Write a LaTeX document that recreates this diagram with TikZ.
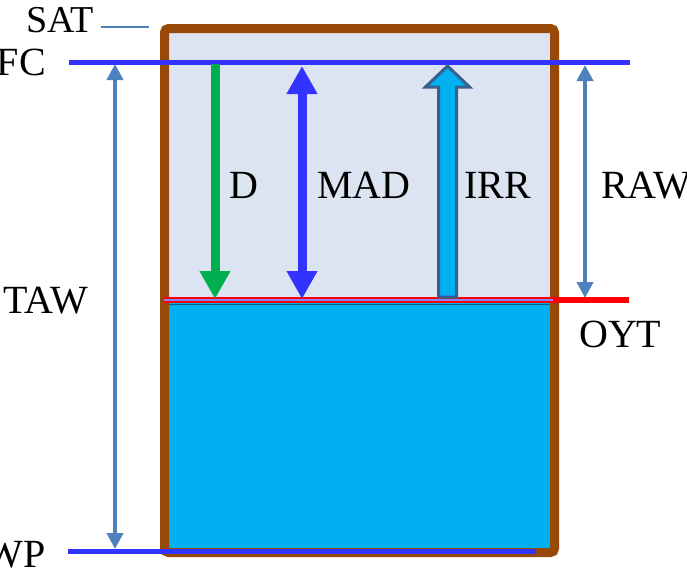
\documentclass[tikz,border=0pt]{standalone}
\usepackage{fontspec}
\setmainfont{Liberation Serif}
\newfontfamily\timesfont{Liberation Serif}
\usetikzlibrary{arrows.meta}
\definecolor{lightfill}{HTML}{DBE4F0}
\definecolor{cyanfill}{HTML}{00B0F0}
\definecolor{brownbox}{HTML}{984807}
\definecolor{lineblue}{HTML}{3333FF}
\definecolor{steel}{HTML}{4F81BD}
\definecolor{darksteel}{HTML}{3A5F8C}
\definecolor{greenarrow}{HTML}{00B050}
\tikzset{
  lbl/.style={inner sep=0pt, font=\timesfont\fontsize{40}{48}\selectfont, text=black},
  levelline/.style={draw=lineblue, line width=5pt},
  thinarrow/.style={draw=steel, line width=4pt, {Triangle[width=16pt,length=16pt]}-{Triangle[width=16pt,length=16pt]}},
  boldarrow/.style={line width=9pt, -{Triangle[width=29pt,length=28pt]}},
}
\begin{document}
\begin{tikzpicture}[x=1pt,y=-1pt]
\useasboundingbox (0,0) rectangle (687,570);
% fills
\fill[lightfill] (164,28) rectangle (554,302);
\fill[cyanfill] (164,302) rectangle (554,553);
\draw[black!45!cyanfill, line width=1pt] (168,304.5) -- (550,304.5);
% container
\draw[brownbox, line width=9pt, rounded corners=4pt] (164.5,28.5) rectangle (554.5,552.5);
% coordinates
\coordinate (fcL) at (69,62);
\coordinate (fcR) at (630,62);
\coordinate (wpL) at (68,551);
\coordinate (wpR) at (536,551);
\coordinate (oytL) at (164,300);
\coordinate (oytBoxR) at (553,300);
\coordinate (oytR) at (629,300);
\coordinate (satL) at (101,27);
\coordinate (satR) at (149,27);
% OYT red line
\draw[red, line width=6pt] (oytL) -- (oytR);
\draw[lineblue!60, line width=1.4pt] (oytL) -- (oytBoxR);
% level lines
\draw[levelline] (fcL) -- (fcR);
\draw[levelline] (wpL) -- (wpR);
\draw[steel, line width=1.5pt] (satL) -- (satR);
% TAW
\coordinate (tawT) at (115,64);
\coordinate (tawB) at (115,549);
\draw[thinarrow] (tawT) -- (tawB);
% RAW
\coordinate (rawT) at (585,65);
\coordinate (rawB) at (585,298);
\draw[thinarrow] (rawT) -- (rawB);
% D
\coordinate (dT) at (215,64);
\coordinate (dB) at (215,299);
\draw[boldarrow, greenarrow] (dT) -- (dB);
% MAD
\coordinate (madT) at (302,66);
\coordinate (madB) at (302,299);
\draw[boldarrow, lineblue, {Triangle[width=29pt,length=28pt]}-{Triangle[width=29pt,length=28pt]}] (madT) -- (madB);
% IRR block arrow
\draw[darksteel, fill=cyanfill, line width=3pt, line join=miter]
  (438.5,297) -- (438.5,87) -- (425.5,87) -- (447.5,66) -- (469.5,87) -- (456.5,87) -- (456.5,297) -- cycle;
% labels
\node[lbl, anchor=base west, font=\timesfont\fontsize{38}{46}\selectfont] (sat) at (26,32) {SAT};
\node[lbl, anchor=base east] (fc) at (46,75) {FC};
\node[lbl, anchor=base west] (taw) at (3,313) {TAW};
\node[lbl, anchor=base east] (wp) at (46,567) {WP};
\node[lbl, anchor=base west] (d) at (229,198) {D};
\node[lbl, anchor=base west] (mad) at (317,198) {MAD};
\node[lbl, anchor=base west] (irr) at (464,198) {IRR};
\node[lbl, anchor=base west] (raw) at (601,198) {RAW};
\node[lbl, anchor=base west] (oyt) at (579,347) {OYT};
\end{tikzpicture}
\end{document}
